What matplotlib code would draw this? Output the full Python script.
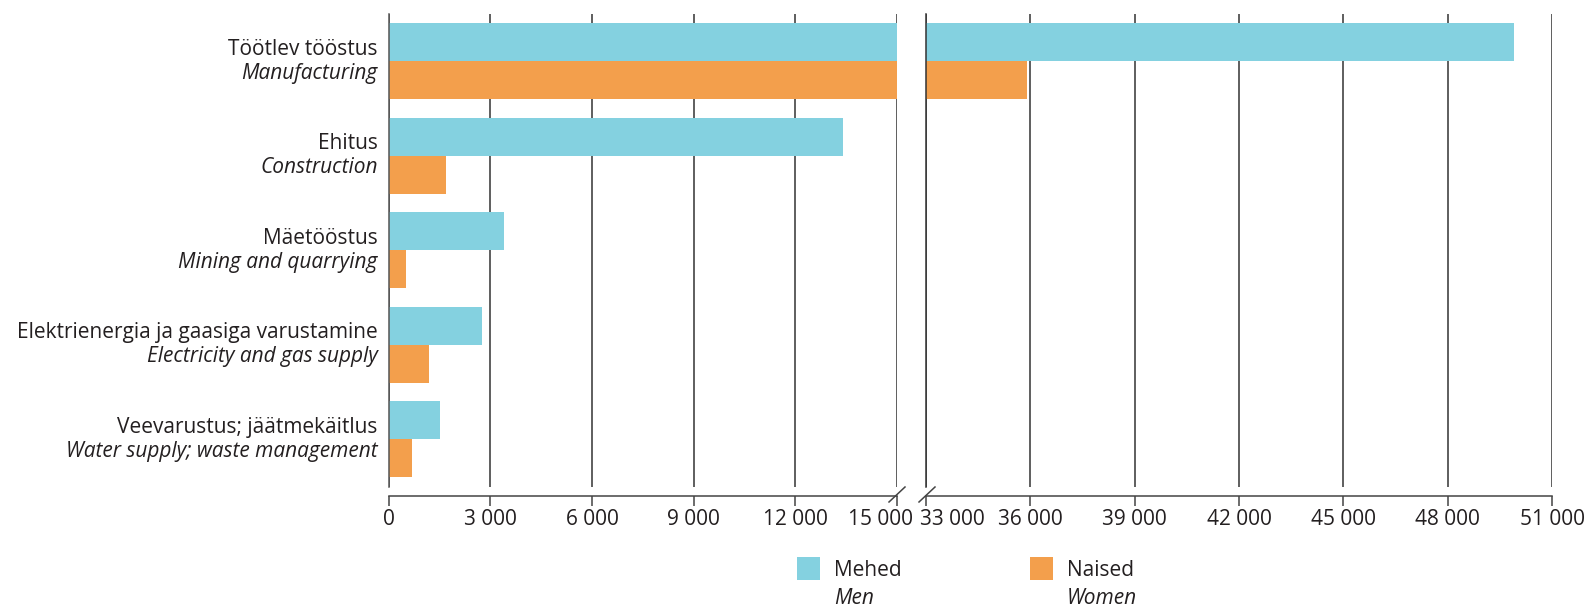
import matplotlib
matplotlib.use("Agg")
import matplotlib.pyplot as plt
from matplotlib.patches import Rectangle
from matplotlib.lines import Line2D
from matplotlib.transforms import ScaledTranslation, IdentityTransform

plt.rcParams['font.family'] = ['Open Sans', 'DejaVu Sans']

# ---- data ----
categories_et = ["Töötlev tööstus", "Ehitus", "Mäetööstus",
                 "Elektrienergia ja gaasiga varustamine", "Veevarustus; jäätmekäitlus"]
categories_en = ["Manufacturing", "Construction", "Mining and quarrying",
                 "Electricity and gas supply", "Water supply; waste management"]
men = [49900, 13400, 3400, 2750, 1500]
women = [35900, 1700, 500, 1200, 700]
left_ticks = [0, 3000, 6000, 9000, 12000, 15000]
right_ticks = [33000, 36000, 39000, 42000, 45000, 48000, 51000]
legend_et = ["Mehed", "Naised"]
legend_en = ["Men", "Women"]

C_MEN = "#84D1E0"
C_WOMEN = "#F39F4C"
TXT = "#231F20"
GRID = "#333333"
FS = 15

W, H = 1588, 608
fig = plt.figure(figsize=(W / 100, H / 100), dpi=100)

def frac(x0, y0, x1, y1):
    return [x0 / W, 1 - y1 / H, (x1 - x0) / W, (y1 - y0) / H]

axL = fig.add_axes(frac(388.7, 14, 897, 486.5))
axR = fig.add_axes(frac(926, 14, 1552, 486.5))

ypos = list(range(len(categories_et)))
bh = 0.4
for ax in (axL, axR):
    ax.barh([y - bh / 2 for y in ypos], men, height=bh, color=C_MEN, zorder=2)
    ax.barh([y + bh / 2 for y in ypos], women, height=bh, color=C_WOMEN, zorder=2)
    ax.set_ylim(len(categories_et) - 0.5, -0.5)
    ax.set_yticks([])
    ax.grid(axis='x', color=GRID, linewidth=1.1, zorder=0)
    ax.set_axisbelow(True)
    ax.spines['top'].set_visible(False)
    ax.spines['right'].set_visible(False)
    ax.spines['bottom'].set_position(('outward', 7))
    ax.spines['bottom'].set_color("#444444")
    ax.spines['bottom'].set_linewidth(1.1)
    ax.tick_params(axis='x', direction='out', length=7, width=1.1, color="#444444",
                   labelsize=FS, labelcolor=TXT, pad=2)
    ax.tick_params(axis='y', length=0)

axL.set_xlim(0, 15000)
axR.set_xlim(33000, 51000)
axL.spines['left'].set_color("#555555")
axL.spines['left'].set_linewidth(1.1)
axR.spines['left'].set_color(GRID)
axR.spines['left'].set_linewidth(1.1)

fmt = lambda v: f"{v:,}".replace(",", " ")
axL.set_xticks(left_ticks)
axL.set_xticklabels([fmt(v) for v in left_ticks])
axR.set_xticks(right_ticks)
axR.set_xticklabels([fmt(v) for v in right_ticks])

# shift labels near the break
lbl = axL.get_xticklabels()[-1]
lbl.set_transform(lbl.get_transform() + ScaledTranslation(-17 / 100, 0, fig.dpi_scale_trans))
lbl = axR.get_xticklabels()[0]
lbl.set_transform(lbl.get_transform() + ScaledTranslation(26 / 100, 0, fig.dpi_scale_trans))

# category labels
ytr = axL.get_yaxis_transform()
for i, (et, en) in enumerate(zip(categories_et, categories_en)):
    axL.text(0, i, et, ha='right', va='baseline', fontsize=FS, color=TXT,
             transform=ytr + ScaledTranslation(-11 / 100, 6.7 / 100, fig.dpi_scale_trans))
    axL.text(0, i, en, ha='right', va='baseline', fontsize=FS, color=TXT, style='italic',
             transform=ytr + ScaledTranslation(-11 / 100, -17.3 / 100, fig.dpi_scale_trans))

# break marks (pixel coords, y measured from top)
for xc in (897, 927):
    fig.add_artist(Line2D([xc - 8, xc + 8], [H - 502, H - 487], transform=IdentityTransform(),
                          color="#444444", linewidth=1.1))

# legend
for (x_sq, x_tx), et, en, col in zip([(796.7, 834), (1030, 1066.7)], legend_et, legend_en,
                                     [C_MEN, C_WOMEN]):
    fig.add_artist(Rectangle((x_sq / W, 1 - 580 / H), 23.3 / W, 23.3 / H,
                             transform=fig.transFigure, color=col, linewidth=0))
    fig.text(x_tx / W, 1 - 576 / H, et, fontsize=FS, color=TXT, va='baseline', ha='left')
    fig.text(x_tx / W, 1 - 604 / H, en, fontsize=FS, color=TXT, va='baseline', ha='left',
             style='italic')

fig.savefig("out.png", dpi=100)
